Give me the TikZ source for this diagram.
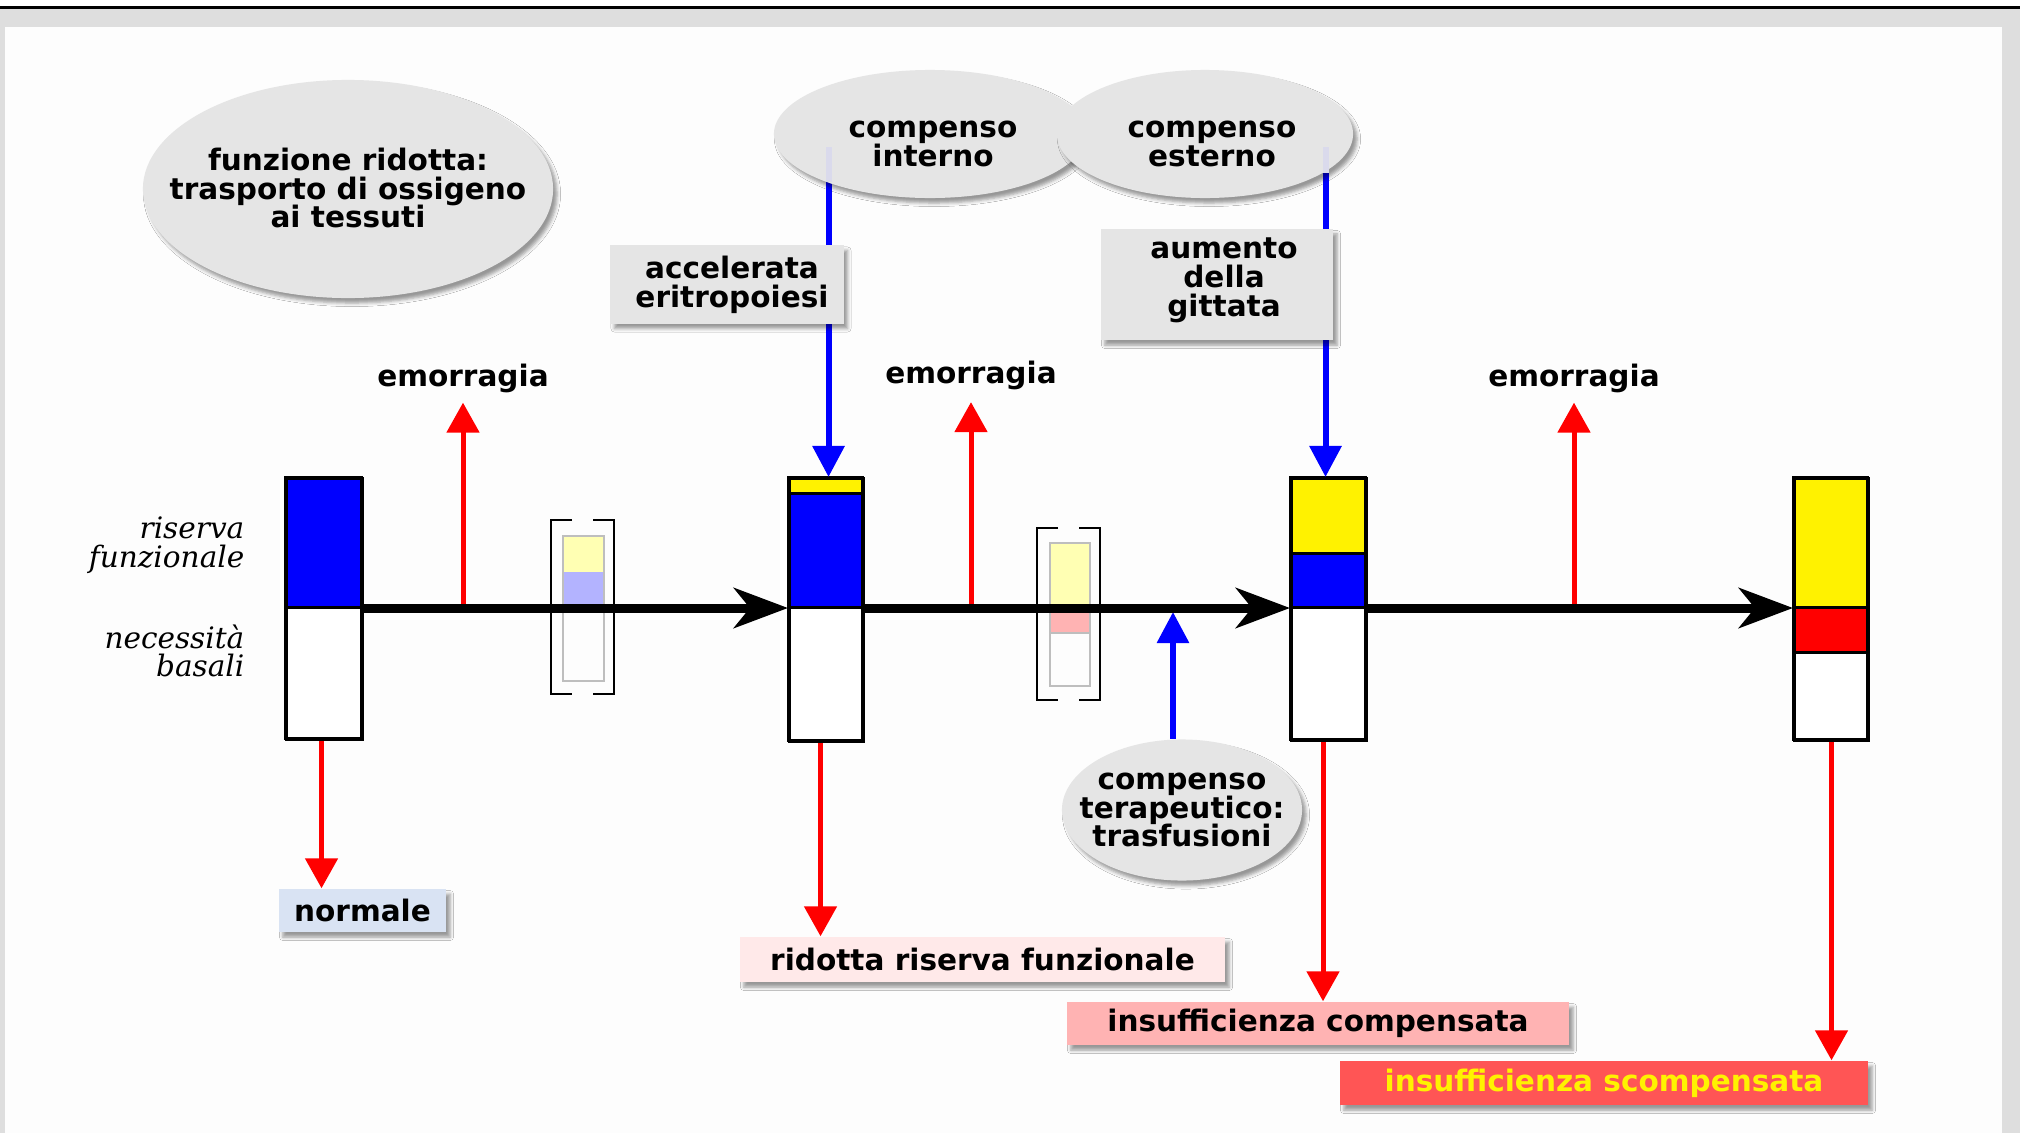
\documentclass[tikz,border=0pt]{standalone}
\usepackage{fontspec}
\setmainfont{DejaVu Sans}
\newfontfamily\itserif{DejaVu Serif}
\usetikzlibrary{arrows.meta,shapes.geometric,shadows.blur}

\definecolor{frameg}{RGB}{222,222,222}
\definecolor{pagew}{RGB}{253,253,253}
\definecolor{bubble}{RGB}{229,229,229}
\definecolor{normfill}{RGB}{217,227,243}
\definecolor{ridfill}{RGB}{255,233,233}
\definecolor{compfill}{RGB}{255,179,179}
\definecolor{scompfill}{RGB}{255,85,85}
\definecolor{paleyellow}{RGB}{255,255,179}
\definecolor{paleblue}{RGB}{179,179,255}
\definecolor{palered}{RGB}{255,179,179}
\definecolor{vesselgrey}{RGB}{190,190,190}
\definecolor{faintblue}{RGB}{218,218,236}

\tikzset{
  lbl/.style={font=\fontsize{8.4}{8.2}\selectfont\bfseries, align=center, inner sep=0pt, text=black},
  itlbl/.style={font=\fontsize{8.4}{8.1}\selectfont\itserif\itshape, align=right, inner sep=0pt, anchor=east},
  softshadow/.style={blur shadow={shadow xshift=0.04cm, shadow yshift=-0.05cm, shadow blur radius=0.035cm}},
  bubblestyle/.style={ellipse, fill=bubble, inner sep=0pt, softshadow},
  greybox/.style={rectangle, fill=bubble, inner sep=0pt, softshadow},
  resbox/.style={rectangle, lbl, softshadow},
  seg/.style={draw=black, line width=0.03cm},
  barframe/.style={draw=black, line width=0.03cm, inner sep=0pt, anchor=north west},
  vessel/.style={draw=vesselgrey, line width=0.022cm, inner sep=0pt, anchor=north west},
  brack/.style={draw=black, line width=0.028cm},
  axisline/.style={line width=0.09cm, -{Stealth[length=0.54cm,width=0.40cm,inset=0.16cm]}},
  redarrow/.style={draw=red, line width=0.05cm, -{Triangle[length=0.30cm,width=0.32cm]}},
  bluearrow/.style={draw=blue, line width=0.06cm, -{Triangle[length=0.31cm,width=0.31cm]}},
  faintline/.style={draw=faintblue, line width=0.06cm}
}

\begin{document}
\begin{tikzpicture}[x=0.01cm, y=-0.01cm]
\useasboundingbox (0,0) rectangle (2026,1133);
\fill[white] (0,0) rectangle (2026,1133);
\fill[frameg] (0,8) rectangle (2020,1133);
\fill[pagew] (5,27) rectangle (2002,1133);
\draw[line width=0.03cm] (0,7) -- (2020,7);

\coordinate (ax) at (0,608);
\coordinate (axb) at (0,612);

% ---- bars ----
\draw[seg, fill=blue] (285,477) rectangle (361,607);
\draw[seg, fill=white] (285,607) rectangle (361,738);
\node[barframe, minimum width=0.76cm, minimum height=2.61cm] (bar1) at (285,477) {};

\draw[seg, fill=yellow] (788,477) rectangle (862,493);
\draw[seg, fill=blue] (788,493) rectangle (862,607);
\draw[seg, fill=white] (788,607) rectangle (862,740);
\node[barframe, minimum width=0.74cm, minimum height=2.63cm] (bar2) at (788,477) {};

\draw[seg, fill=yellow] (1290,477) rectangle (1365,553);
\draw[seg, fill=blue] (1290,553) rectangle (1365,607);
\draw[seg, fill=white] (1290,607) rectangle (1365,739);
\node[barframe, minimum width=0.75cm, minimum height=2.62cm] (bar3) at (1290,477) {};

\draw[seg, fill=yellow] (1793,477) rectangle (1867,607);
\draw[seg, fill=red] (1793,607) rectangle (1867,652);
\draw[seg, fill=white] (1793,652) rectangle (1867,739);
\node[barframe, minimum width=0.74cm, minimum height=2.62cm] (bar4) at (1793,477) {};

% ---- vessels ----
\fill[paleyellow] (562,535) rectangle (603,572);
\fill[paleblue] (562,572) rectangle (603,608);
\node[vessel, minimum width=0.41cm, minimum height=1.45cm] (v1) at (562,535) {};
\draw[brack] (572,520) -- (551,520) -- (551,694) -- (572,694);
\draw[brack] (593,520) -- (614,520) -- (614,694) -- (593,694);

\fill[paleyellow] (1049,542) rectangle (1089,608);
\fill[palered] (1049,608) rectangle (1089,633);
\draw[vesselgrey, line width=0.022cm] (1049,633) -- (1089,633);
\node[vessel, minimum width=0.40cm, minimum height=1.43cm] (v2) at (1049,542) {};
\draw[brack] (1058,528) -- (1037,528) -- (1037,700) -- (1058,700);
\draw[brack] (1079,528) -- (1100,528) -- (1100,700) -- (1079,700);

% ---- emorragia ----
\node[lbl] (em1) at (463,378) {emorragia};
\node[lbl] (em2) at (971,375) {emorragia};
\node[lbl] (em3) at (1574,378) {emorragia};
\draw[redarrow] (em1 |- ax) -- ([yshift=-0.095cm]em1.south);
\draw[redarrow] (em2 |- ax) -- ([yshift=-0.12cm]em2.south);
\draw[redarrow] (em3 |- ax) -- ([yshift=-0.095cm]em3.south);

% ---- result boxes ----
\node[resbox, fill=normfill, minimum width=1.67cm, minimum height=0.43cm] (norm) at (362.5,910.5) {normale};
\node[resbox, fill=ridfill, minimum width=4.85cm, minimum height=0.45cm] (rid) at (982.5,959.5) {ridotta riserva funzionale};
\node[resbox, fill=compfill, minimum width=5.02cm, minimum height=0.43cm] (comp) at (1318,1023.5) {insufficienza compensata};
\node[resbox, fill=scompfill, text=yellow, minimum width=5.28cm, minimum height=0.44cm] (scomp) at (1604,1083) {insufficienza scompensata};

\draw[redarrow] ([xshift=-0.03cm]bar1.south) -- ([xshift=-0.03cm]bar1.south |- norm.north);
\draw[redarrow] ([xshift=-0.06cm]bar2.south) -- ([xshift=-0.06cm]bar2.south |- rid.north);
\draw[redarrow] ([xshift=-0.06cm]bar3.south) -- ([xshift=-0.06cm]bar3.south |- comp.north);
\draw[redarrow] (bar4.south) -- (bar4.south |- scomp.north);

% ---- compensations ----
\coordinate (ciy) at (0,147);
\draw[bluearrow] ([xshift=0.02cm]bar2.north |- ciy) -- ([xshift=0.02cm]bar2.north);
\draw[bluearrow] ([xshift=-0.035cm]bar3.north |- ciy) -- ([xshift=-0.035cm]bar3.north);

\node[bubblestyle, minimum width=3.12cm, minimum height=1.28cm] (ci) at (930,134) {};
\node[bubblestyle, minimum width=2.96cm, minimum height=1.28cm] (ce) at (1205,134) {};
\draw[faintline] ([xshift=0.02cm]bar2.north |- ciy) -- ([xshift=0.02cm]bar2.north |- ci.205);
\draw[faintline] ([xshift=-0.035cm]bar3.north |- ciy) -- ([xshift=-0.035cm]bar3.north |- ce.-18);
\node[lbl] (cit) at (933,144) {compenso\\interno};
\node[lbl] (cet) at (1212,144) {compenso\\esterno};

\node[greybox, minimum width=2.33cm, minimum height=0.78cm] (acc) at (727,284.5) {};
\node[lbl] (acct) at (732,285) {accelerata\\eritropoiesi};
\node[greybox, minimum width=2.32cm, minimum height=1.11cm] (aum) at (1217,284.5) {};
\node[lbl] (aumt) at (1224,280) {aumento\\della\\gittata};

\node[bubblestyle, minimum width=2.40cm, minimum height=1.41cm] (tr) at (1182,810) {};
\node[lbl] (trt) at (1182,810) {compenso\\terapeutico:\\trasfusioni};
\draw[bluearrow] ([xshift=-0.09cm]tr.north) -- ([xshift=-0.09cm]tr.north |- axb);

\node[bubblestyle, minimum width=4.10cm, minimum height=2.18cm] (fr) at (348,189) {};
\node[lbl] (frt) at (348,188) {funzione ridotta:\\trasporto di ossigeno\\ai tessuti};

% ---- axis ----
\draw[axisline] (bar1.east |- ax) -- (bar2.west |- ax);
\draw[axisline] (bar2.east |- ax) -- (bar3.west |- ax);
\draw[axisline] (bar3.east |- ax) -- (bar4.west |- ax);

% ---- side labels ----
\node[itlbl] (rf) at (245,545) {riserva\\funzionale};
\node[itlbl] (nb) at (245,651) {necessità\\basali};
\end{tikzpicture}
\end{document}
